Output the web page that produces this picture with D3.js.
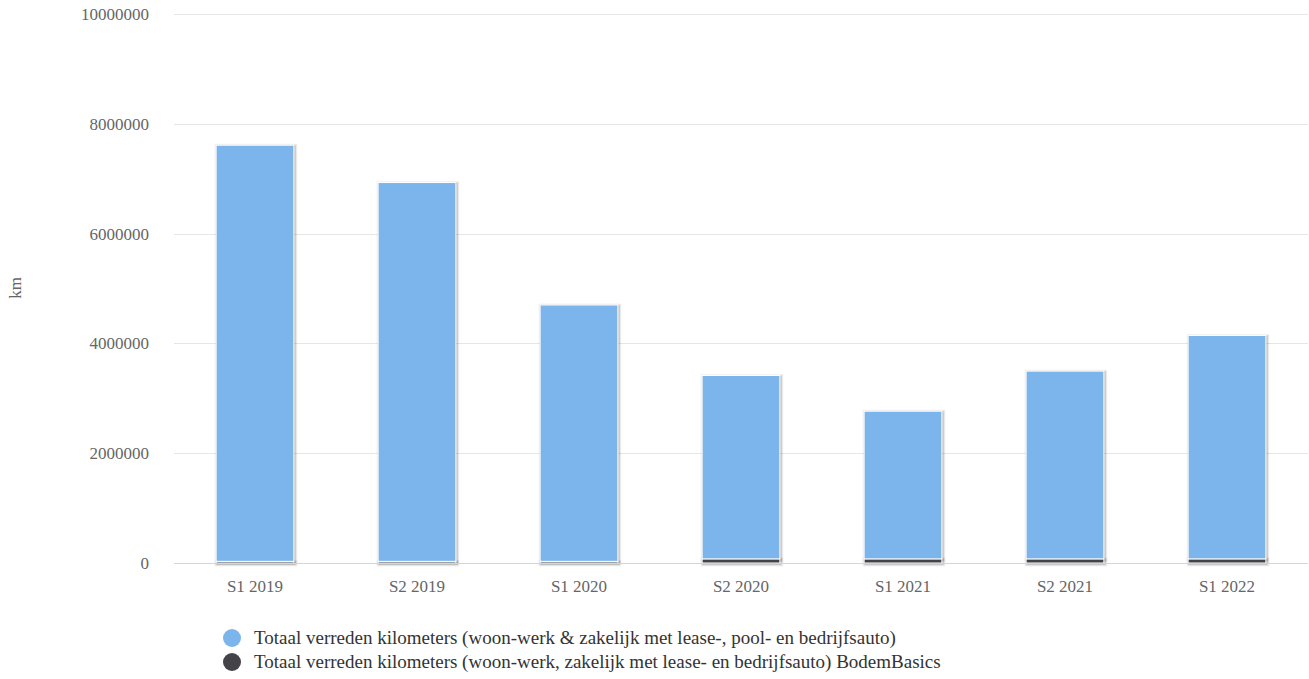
<!DOCTYPE html>
<html><head><meta charset="utf-8">
<script src="https://cdn.jsdelivr.net/npm/d3@7"></script>
<style>body{margin:0;background:#fff}svg{display:block}</style>
</head><body><svg id="c" width="1309" height="679"></svg>
<script>
const categories = ["S1 2019","S2 2019","S1 2020","S2 2020","S1 2021","S2 2021","S1 2022"];
const seriesNames = [
  "Totaal verreden kilometers (woon-werk & zakelijk met lease-, pool- en bedrijfsauto)",
  "Totaal verreden kilometers (woon-werk, zakelijk met lease- en bedrijfsauto) BodemBasics"
];
const blueValues = [7580000, 6900000, 4670000, 3340000, 2690000, 3420000, 4070000];
const darkValues = [30000, 30000, 30000, 75000, 75000, 75000, 75000];
const yTicks = [0, 2000000, 4000000, 6000000, 8000000, 10000000];
const colors = ["#7cb5ec", "#434348"];
const FONT = "'Liberation Serif', 'Times New Roman', serif";

const svg = d3.select("#c").attr("font-family", FONT);
const x = d3.scaleBand().domain(categories).range([174, 1308]).paddingInner(0.52).paddingOuter(0.26);
const y = d3.scaleLinear().domain([0, 10000000]).range([563, 14]);

const gy = svg.append("g").attr("transform","translate(174,0)")
  .call(d3.axisLeft(y).tickValues(yTicks).tickSize(-1134).tickFormat(d3.format("d")).tickPadding(25));
gy.attr("font-family",FONT).attr("font-size",17);
gy.select(".domain").remove();
gy.selectAll(".tick line").attr("stroke","#e6e6e6").attr("shape-rendering","crispEdges");
gy.selectAll(".tick text").attr("fill","#666").attr("dy","0.32em");

const stacked = categories.map((c,i)=>({c, dark:darkValues[i], blue:blueValues[i]}));
const shadowG = svg.append("g");
const barsG = svg.append("g");
stacked.forEach(d=>{
  const x0 = x(d.c), w = x.bandwidth();
  const segs = [
    {y0:0, y1:d.dark, col:colors[1]},
    {y0:d.dark, y1:d.dark+d.blue, col:colors[0]}
  ];
  segs.forEach(s=>{
    const top = y(s.y1), bot = y(s.y0);
    [[5,0.05],[3,0.1],[1,0.15]].forEach(([sw,op])=>{
      shadowG.append("rect").attr("x",x0+1).attr("y",top+1).attr("width",w).attr("height",Math.max(0,bot-top))
        .attr("fill","none").attr("stroke","#000").attr("stroke-opacity",op).attr("stroke-width",sw);
    });
  });
  segs.forEach(s=>{
    const top = y(s.y1), bot = y(s.y0);
    barsG.append("rect").attr("x",x0).attr("y",top).attr("width",w).attr("height",Math.max(0,bot-top))
      .attr("fill",s.col).attr("stroke","#fff").attr("stroke-width",1);
  });
});

const gx = svg.append("g").attr("transform","translate(0,563)").call(d3.axisBottom(x).tickSize(0).tickPadding(17));
gx.attr("font-family",FONT).attr("font-size",17);
gx.select(".domain").attr("stroke","#ccd6eb").attr("d","M174,0.5H1308");
gx.selectAll(".tick text").attr("fill","#666");

svg.append("text").attr("transform","translate(21,288) rotate(-90)").attr("text-anchor","middle")
  .attr("font-family",FONT).attr("font-size",17).attr("fill","#666").text("km");

const lg = svg.append("g");
seriesNames.forEach((n,i)=>{
  const cy = 638 + i*24;
  lg.append("circle").attr("cx",232).attr("cy",cy).attr("r",9).attr("fill",colors[i]);
  lg.append("text").attr("x",254).attr("y",cy).attr("dy","0.33em").attr("font-family",FONT)
    .attr("font-size",19).attr("fill","#333").text(n);
});
</script></body></html>
